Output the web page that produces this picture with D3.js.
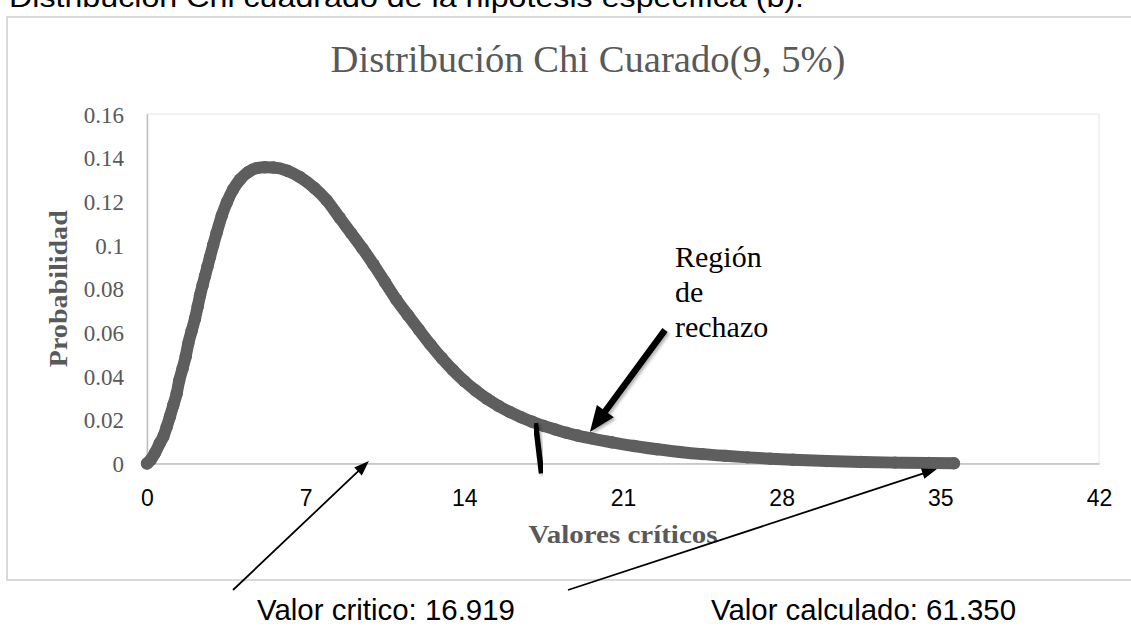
<!DOCTYPE html>
<html>
<head>
<meta charset="utf-8">
<script src="https://cdn.jsdelivr.net/npm/d3@7"></script>
<style>
  body { margin: 0; background: #fff; }
  svg { display: block; }
</style>
</head>
<body>
<svg id="chart" width="1131" height="635"></svg>
<script>
// Chi-square chart (9 gl, 5%) with critical / calculated value notes

// Tick values of both axes
const xTicks = [0, 7, 14, 21, 28, 35, 42];
const yTicks = [0, 0.02, 0.04, 0.06, 0.08, 0.1, 0.12, 0.14, 0.16];

// Curve points (valor critico, probabilidad)
const valores = [0, 0.15, 0.35, 0.57, 0.72, 0.87, 1.01, 1.16, 1.31, 1.42, 1.57, 1.71, 1.82, 1.97,
  2.12, 2.24, 2.34, 2.45, 2.56, 2.67, 2.78, 2.92, 3.07, 3.3, 3.52, 3.8, 4.1, 4.45, 4.84, 5.2,
  5.57, 6.2, 6.75, 7.4, 7.93, 8.5, 9.0, 9.5, 10.0, 10.5, 11.0, 11.5, 12.0, 12.5, 13.0, 13.5,
  14.0, 14.5, 15.0, 15.5, 16.0, 16.5, 17.0, 17.5, 18.0, 18.5, 19.0, 19.6, 20.5, 21.5, 22.5,
  23.5, 24.5, 25.5, 26.5, 27.5, 28.5, 30.0, 31.5, 33.0, 34.5, 35.6];
const probabilidad = [0, 0.0015, 0.0048, 0.0094, 0.0123, 0.0168, 0.0214, 0.0267, 0.0321, 0.0379,
  0.0435, 0.0491, 0.0549, 0.0607, 0.0664, 0.0720, 0.0770, 0.0815, 0.0858, 0.0902, 0.0945, 0.1000,
  0.1055, 0.1135, 0.1195, 0.1255, 0.1300, 0.1333, 0.1352, 0.1356, 0.1355, 0.1340, 0.1311, 0.1260,
  0.1205, 0.1125, 0.1055, 0.0985, 0.0910, 0.0830, 0.0750, 0.0680, 0.0612, 0.0545, 0.0483, 0.0427,
  0.0377, 0.0334, 0.0296, 0.0264, 0.0236, 0.0212, 0.0191, 0.0172, 0.0156, 0.0141, 0.0128, 0.0115,
  0.0097, 0.0080, 0.0065, 0.0053, 0.0043, 0.0035, 0.0028, 0.0022, 0.0017, 0.0011, 0.0007, 0.0004,
  0.0002, 0.0001];

const criticalValue = 16.919;
const calculatedValue = 61.350;

const captionText = 'Distribución Chi cuadrado de la hipótesis específica (b).';
const titleText = 'Distribución Chi Cuarado(9, 5%)';
const xTitle = 'Valores críticos';
const yTitle = 'Probabilidad';
const regionLines = ['Región', 'de', 'rechazo'];

document.addEventListener('DOMContentLoaded', function() {
  drawChart();
});

function drawChart() {
  const svg = d3.select('#chart');
  const plot = { left: 147, right: 1099, top: 114, bottom: 463.5 };

  const x = d3.scaleLinear().domain([0, 42]).range([plot.left, plot.right]);
  const y = d3.scaleLinear().domain([0, 0.16]).range([plot.bottom, plot.top]);

  // soft shadow used by the thick annotation marks
  const defs = svg.append('defs');
  defs.append('filter').attr('id', 'shadow')
    .attr('x', '-20%').attr('y', '-20%').attr('width', '140%').attr('height', '140%')
    .append('feDropShadow')
    .attr('dx', 2).attr('dy', 2).attr('stdDeviation', 1.5)
    .attr('flood-color', '#000').attr('flood-opacity', 0.3);

  // caption above the chart (cut by the top edge, as in the source)
  svg.append('text')
    .attr('x', 9).attr('y', 7)
    .attr('font-family', 'Liberation Sans, Arial, sans-serif')
    .attr('font-size', 28)
    .attr('fill', '#000')
    .attr('textLength', 795)
    .attr('lengthAdjust', 'spacingAndGlyphs')
    .text(captionText);

  // chart frame
  svg.append('rect')
    .attr('x', 7).attr('y', 17)
    .attr('width', 1200).attr('height', 563)
    .attr('fill', 'none')
    .attr('stroke', '#d9d9d9')
    .attr('stroke-width', 2);

  // plot area border (very faint)
  svg.append('rect')
    .attr('x', plot.left).attr('y', plot.top)
    .attr('width', plot.right - plot.left).attr('height', plot.bottom - plot.top)
    .attr('fill', 'none')
    .attr('stroke', '#e4e6ea')
    .attr('stroke-width', 1);

  // title
  svg.append('text')
    .attr('x', 588).attr('y', 72)
    .attr('text-anchor', 'middle')
    .attr('font-family', 'Liberation Serif, Times New Roman, serif')
    .attr('font-size', 38)
    .attr('fill', '#595959')
    .attr('textLength', 515)
    .attr('lengthAdjust', 'spacingAndGlyphs')
    .text(titleText);

  // axes
  const xAxis = d3.axisBottom(x).tickValues(xTicks).tickSize(0).tickPadding(0)
    .tickFormat(d3.format('d'));
  const yAxis = d3.axisLeft(y).tickValues(yTicks).tickSize(0).tickPadding(0)
    .tickFormat(d => d === 0 ? '0' : String(+d.toFixed(2)));

  const gx = svg.append('g').attr('transform', `translate(0,${plot.bottom})`).call(xAxis);
  gx.select('.domain').attr('stroke', '#bfbfbf').attr('stroke-width', 1.5);
  gx.selectAll('text')
    .attr('y', 42)
    .attr('dy', 0)
    .attr('font-family', 'Liberation Sans, Arial, sans-serif')
    .attr('font-size', 23)
    .attr('fill', '#000');

  const gy = svg.append('g').attr('transform', `translate(${plot.left},0)`).call(yAxis);
  gy.select('.domain').attr('stroke', '#bfbfbf').attr('stroke-width', 1.5);
  gy.selectAll('text')
    .attr('x', -23)
    .attr('dy', '0.35em')
    .attr('font-family', 'Liberation Serif, Times New Roman, serif')
    .attr('font-size', 23)
    .attr('fill', '#595959');

  // axis titles
  svg.append('text')
    .attr('x', (plot.left + plot.right) / 2).attr('y', 543)
    .attr('text-anchor', 'middle')
    .attr('font-family', 'Liberation Serif, Times New Roman, serif')
    .attr('font-weight', 'bold')
    .attr('font-size', 25)
    .attr('fill', '#595959')
    .attr('textLength', 189)
    .attr('lengthAdjust', 'spacingAndGlyphs')
    .text(xTitle);

  svg.append('text')
    .attr('transform', `translate(67,${(plot.top + plot.bottom) / 2}) rotate(-90)`)
    .attr('text-anchor', 'middle')
    .attr('font-family', 'Liberation Serif, Times New Roman, serif')
    .attr('font-weight', 'bold')
    .attr('font-size', 25)
    .attr('fill', '#595959')
    .attr('textLength', 157)
    .attr('lengthAdjust', 'spacingAndGlyphs')
    .text(yTitle);

  // the curve: thick line plus the round markers
  const points = valores.map((v, i) => ({ v: v, p: probabilidad[i] }));
  const curveColor = '#5e5e5e';

  const line = d3.line()
    .x(d => x(d.v))
    .y(d => y(d.p))
    .curve(d3.curveMonotoneX);

  svg.append('path')
    .datum(points)
    .attr('d', line)
    .attr('fill', 'none')
    .attr('stroke', curveColor)
    .attr('stroke-width', 12)
    .attr('stroke-linecap', 'round')
    .attr('stroke-linejoin', 'round');

  svg.append('g')
    .selectAll('circle')
    .data(points)
    .enter().append('circle')
    .attr('cx', d => x(d.v))
    .attr('cy', d => y(d.p))
    .attr('r', 6.2)
    .attr('fill', curveColor);

  // critical value mark
  svg.append('line')
    .attr('x1', x(criticalValue) + 5).attr('y1', y(0.0185))
    .attr('x2', x(criticalValue) + 11).attr('y2', y(-0.0045))
    .attr('stroke', '#000')
    .attr('stroke-width', 5.5)
    .attr('filter', 'url(#shadow)');

  // rejection region label and its arrow
  const region = svg.append('text')
    .attr('font-family', 'Liberation Serif, Times New Roman, serif')
    .attr('font-size', 30)
    .attr('fill', '#000');
  regionLines.forEach((t, i) => {
    region.append('tspan').attr('x', 675).attr('y', 267 + i * 35).text(t);
  });

  svg.append('polygon')
    .attr('points', arrowPoints([665, 330], [x(19.54), y(0.0144)], 6.5, 26, 21))
    .attr('fill', '#000')
    .attr('filter', 'url(#shadow)');

  // the two value notes under the chart with their arrows
  drawThinArrow(svg, [233, 590], [x(9.79), y(0.0011)]);
  drawThinArrow(svg, [568, 590], [x(34.85), y(-0.0025)]);

  svg.append('text')
    .attr('x', 257).attr('y', 620)
    .attr('font-family', 'Liberation Sans, Arial, sans-serif')
    .attr('font-size', 29)
    .attr('fill', '#000')
    .attr('textLength', 258)
    .attr('lengthAdjust', 'spacingAndGlyphs')
    .text('Valor critico: ' + criticalValue.toFixed(3));

  svg.append('text')
    .attr('x', 711).attr('y', 620)
    .attr('font-family', 'Liberation Sans, Arial, sans-serif')
    .attr('font-size', 29)
    .attr('fill', '#000')
    .attr('textLength', 305)
    .attr('lengthAdjust', 'spacingAndGlyphs')
    .text('Valor calculado: ' + calculatedValue.toFixed(3));
}

// polygon of an arrow with a shaft of width w and a head of length hl / width hw
function arrowPoints(tail, tip, w, hl, hw) {
  const dx = tip[0] - tail[0];
  const dy = tip[1] - tail[1];
  const len = Math.sqrt(dx * dx + dy * dy);
  const ux = dx / len, uy = dy / len;
  const nx = -uy, ny = ux;
  const bx = tip[0] - ux * hl, by = tip[1] - uy * hl;
  const pts = [
    [tail[0] + nx * w / 2, tail[1] + ny * w / 2],
    [bx + nx * w / 2, by + ny * w / 2],
    [bx + nx * hw / 2, by + ny * hw / 2],
    tip,
    [bx - nx * hw / 2, by - ny * hw / 2],
    [bx - nx * w / 2, by - ny * w / 2],
    [tail[0] - nx * w / 2, tail[1] - ny * w / 2]
  ];
  return pts.map(p => p.join(',')).join(' ');
}

function drawThinArrow(svg, tail, tip) {
  svg.append('polygon')
    .attr('points', arrowPoints(tail, tip, 1.8, 15, 11))
    .attr('fill', '#000');
}
</script>
</body>
</html>
